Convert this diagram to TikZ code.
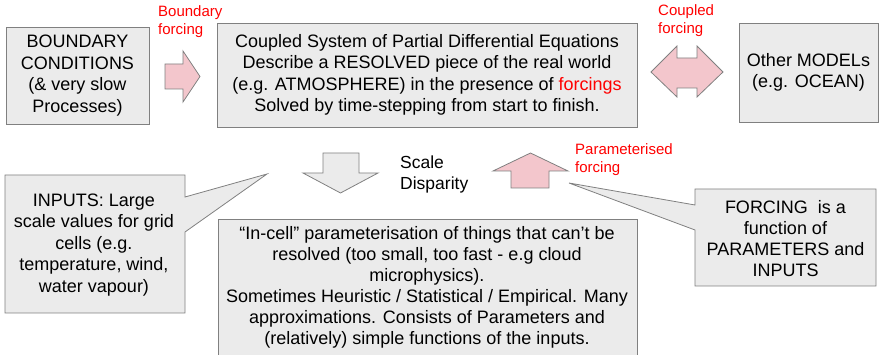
\documentclass[tikz,border=0pt]{standalone}
\usepackage{fontspec}
\setmainfont{Liberation Sans}
\usepackage{xcolor}
\usepackage{tikz}
\usetikzlibrary{positioning, calc}
\definecolor{boxgrey}{RGB}{235, 235, 235}
\definecolor{edgegrey}{RGB}{128, 128, 128}
\definecolor{forcingpink}{RGB}{243, 198, 204}
\definecolor{forcingred}{RGB}{255, 0, 0}

\begin{document}
\begin{tikzpicture}[x=1pt, y=-1pt,
    modelbox/.style={draw=edgegrey, fill=boxgrey, line width=0.8pt, align=center, inner sep=0pt, font=\fontsize{18}{21.5}\selectfont},
    boxtext/.style={align=center, inner sep=0pt, font=\fontsize{18}{21}\selectfont},
    blockarrow/.style={draw=edgegrey, line width=0.8pt, line join=miter},
    forcinglabel/.style={text=forcingred, align=left, inner sep=0pt, anchor=west, font=\fontsize{15}{18}\selectfont}]
    \useasboundingbox (0,0) rectangle (879,355);

    % Top row of boxes
    \node[modelbox, minimum width=143, minimum height=97] (boundary) at (77.5,75.5)
        {BOUNDARY\\CONDITIONS\\(\& very slow\\Processes)};
    \node[modelbox, minimum width=420, minimum height=104] (resolved) at (427,75)
        {Coupled System of Partial Differential Equations\\Describe a RESOLVED piece of the real world\\(e.g. ATMOSPHERE) in the presence of {\color{forcingred}forcings}\\Solved by time-stepping from start to finish.};
    \node[modelbox, minimum width=139, minimum height=99] (other) at (808.5,72.5)
        {Other MODELs\\(e.g. OCEAN)};

    % Bottom box, cut by the page edge
    \begin{scope}
        \clip (0,0) rectangle (879,355);
        \draw[blockarrow, fill=boxgrey] (218,219) rectangle (637,362);
    \end{scope}
    \node[boxtext] (incell) at (427,287.5)
        {“In-cell” parameterisation of things that can’t be\\resolved (too small, too fast - e.g cloud\\microphysics).\\Sometimes Heuristic / Statistical / Empirical. Many\\approximations. Consists of Parameters and\\(relatively) simple functions of the inputs.};

    % Callouts
    \draw[blockarrow, fill=boxgrey] (5,175) -- (185,175) -- (185,197) -- (267,174) -- (185,232)
        -- (185,313) -- (5,313) -- cycle;
    \node[align=center, inner sep=0pt, font=\fontsize{18}{21.5}\selectfont] (inputs) at (94,245)
        {INPUTS: Large\\scale values for grid\\cells (e.g.\\temperature, wind,\\water vapour)};

    \draw[blockarrow, fill=boxgrey] (695,189) -- (876,189) -- (876,286) -- (695,286) -- (695,230)
        -- (569,183) -- (695,205) -- cycle;
    \node[boxtext] (forcing) at (785.5,238.5)
        {FORCING\ \ is a\\function of\\PARAMETERS and\\INPUTS};

    % Block arrows
    \draw[blockarrow, fill=forcingpink] (165,64) -- (183,64) -- (183,51) -- (200,76.5) -- (183,102)
        -- (183,89) -- (165,89) -- cycle;
    \draw[blockarrow, fill=forcingpink] (651,72) -- (677,46) -- (677,58) -- (697,58) -- (697,46)
        -- (723,72) -- (697,97) -- (697,88) -- (677,88) -- (677,97) -- cycle;
    \draw[blockarrow, fill=boxgrey] (323,153) -- (359,153) -- (359,173) -- (378,173) -- (340.5,193)
        -- (303,173) -- (323,173) -- cycle;
    \draw[blockarrow, fill=forcingpink] (511,188) -- (549,188) -- (549,171) -- (568,171) -- (530.5,153)
        -- (493,171) -- (511,171) -- cycle;

    % Arrow labels
    \node[forcinglabel] (boundarylabel) at (158,22) {Boundary\\forcing};
    \node[forcinglabel] (coupledlabel) at (658,21) {Coupled\\forcing};
    \node[forcinglabel] (paramlabel) at (575,159.5) {Parameterised\\forcing};
    \node[align=left, inner sep=0pt, anchor=west, font=\fontsize{17.5}{21}\selectfont] (scalelabel) at (400,174)
        {Scale\\Disparity};

\end{tikzpicture}
\end{document}
